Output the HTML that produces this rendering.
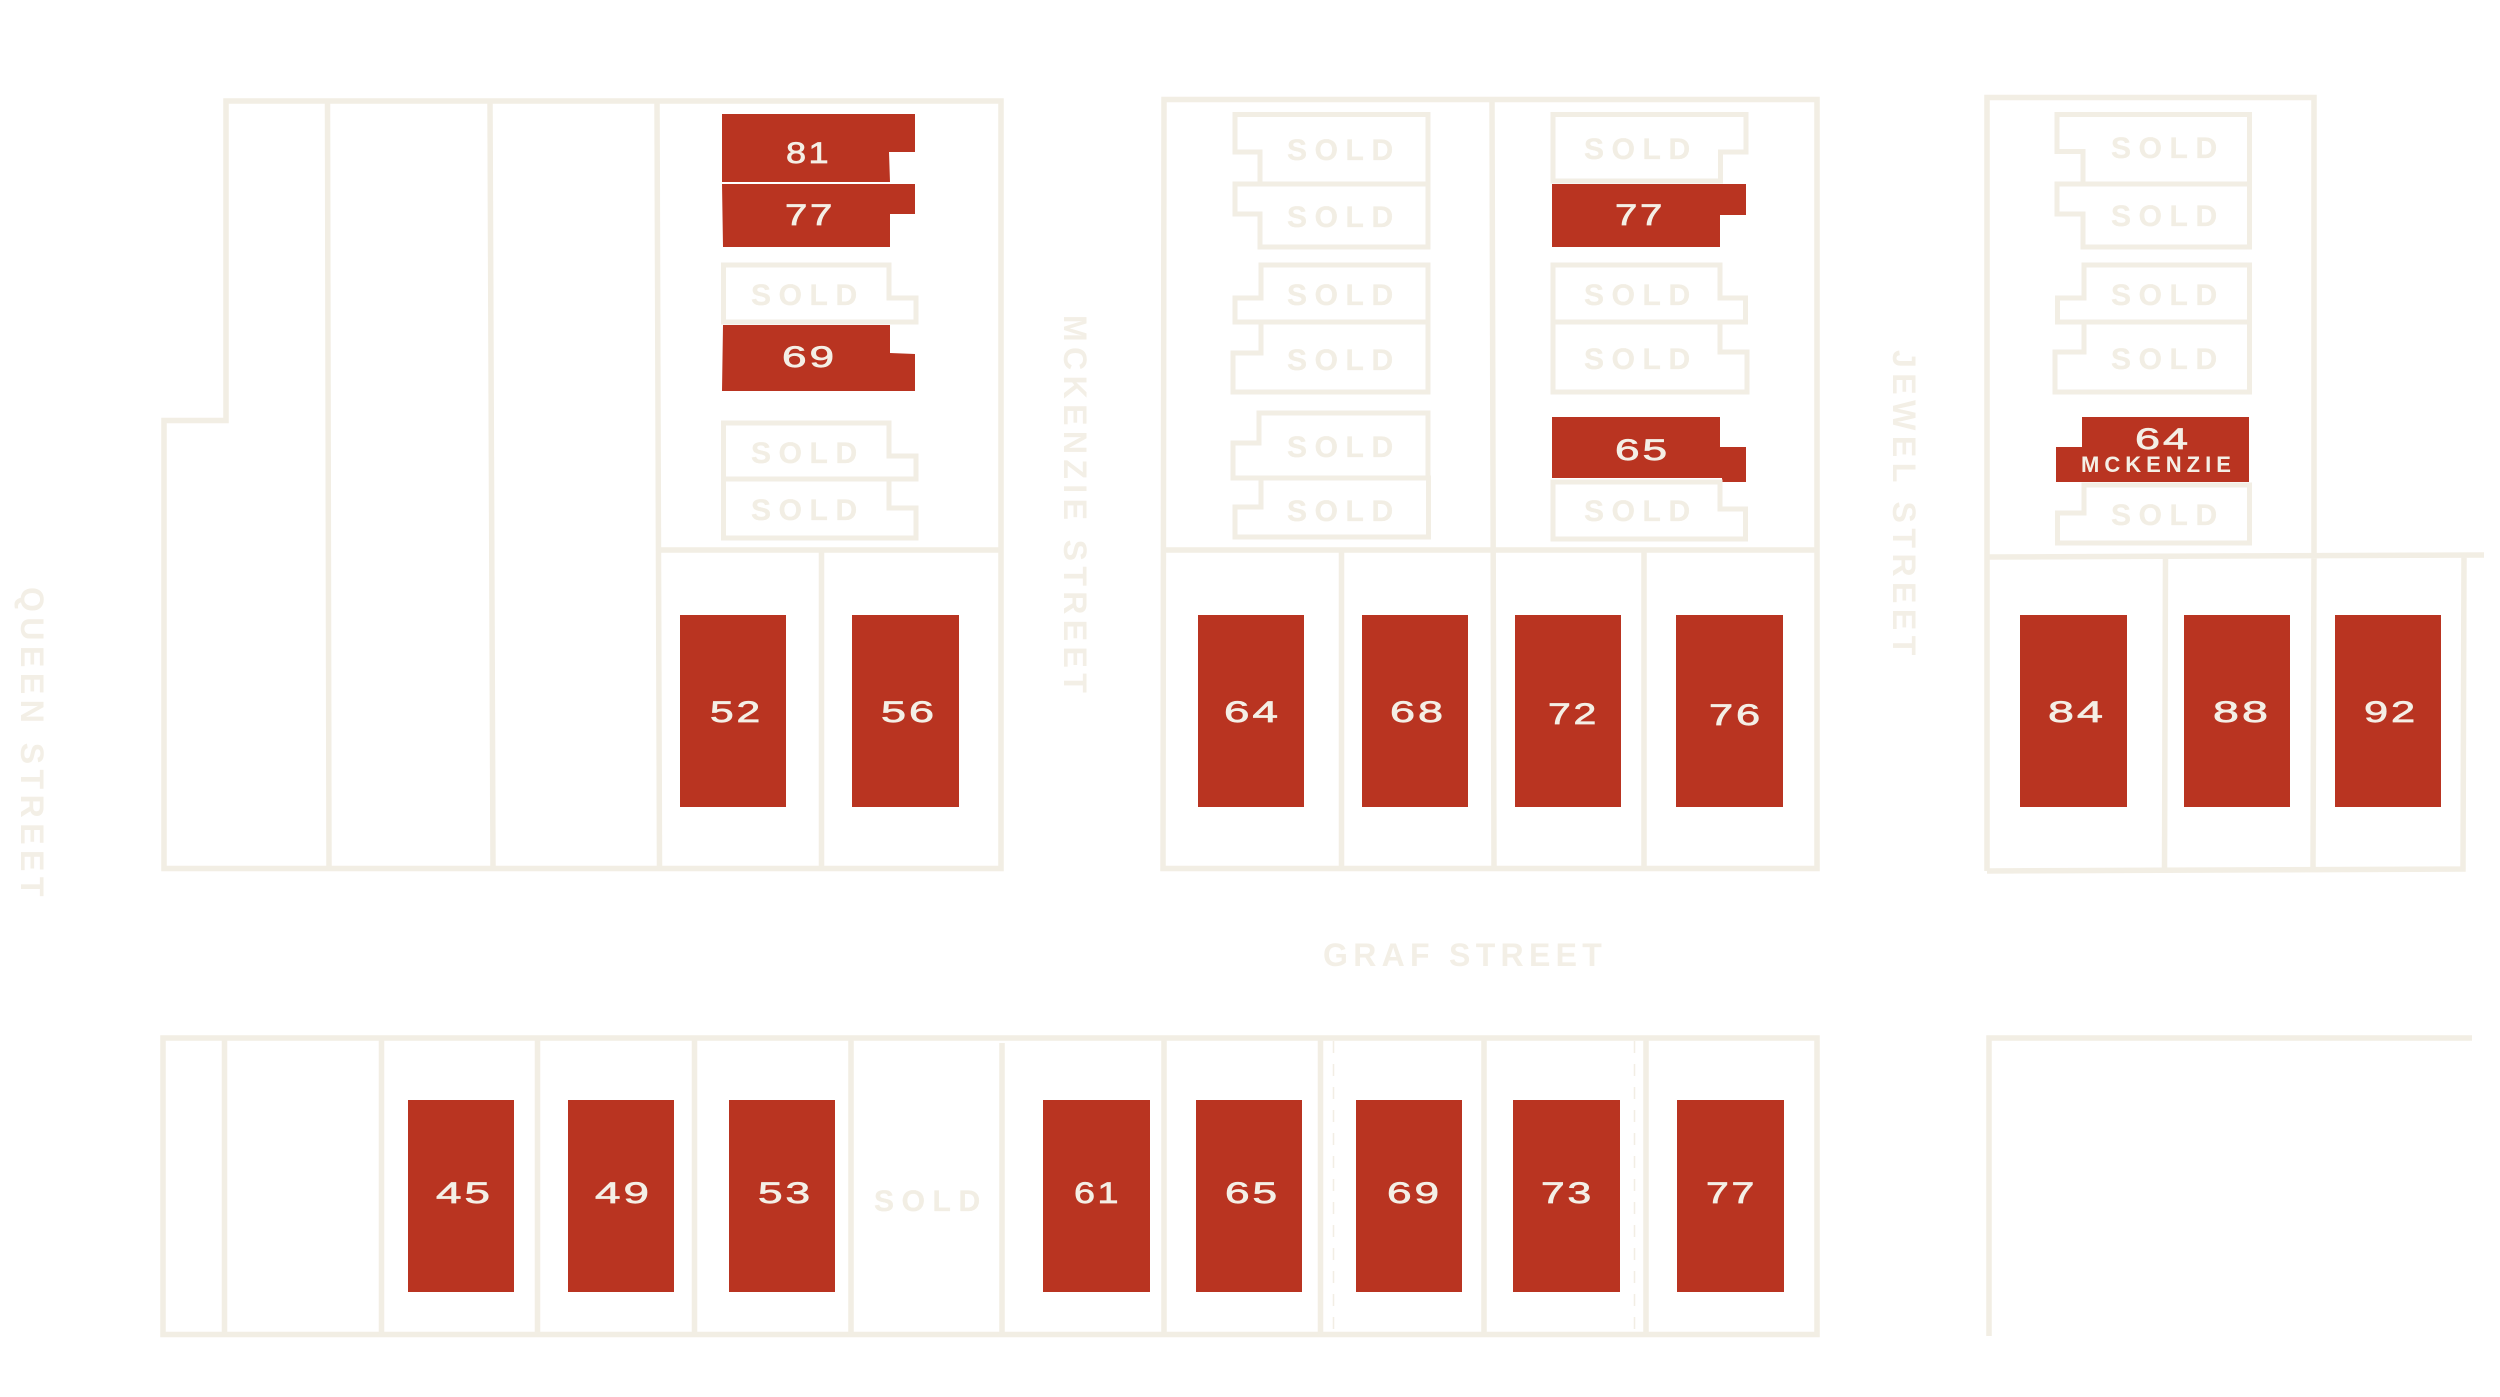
<!DOCTYPE html>
<html>
<head>
<meta charset="utf-8">
<style>
html,body{margin:0;padding:0;background:#fff;width:2500px;height:1397px;overflow:hidden}
svg{display:block}
.l{fill:none;stroke:#f2eee4;stroke-width:5.5;stroke-linejoin:miter;stroke-linecap:butt}
.o{fill:none;stroke:#f2eee4;stroke-width:5;stroke-linejoin:miter}
.r{fill:#b93421}
text{font-family:"Liberation Sans",sans-serif}
.s{font-size:30px;font-weight:bold;letter-spacing:7.6px;fill:#f2eee4;stroke:#f2eee4;stroke-width:.3}
.n{font-size:30px;letter-spacing:2px;fill:#f4efe6;stroke:#f4efe6;stroke-width:.7}
.t{font-size:32px;font-weight:bold;fill:#f3efe6}
</style>
</head>
<body>
<svg width="2500" height="1397" viewBox="0 0 2500 1397" xmlns="http://www.w3.org/2000/svg">
<rect width="2500" height="1397" fill="#fff"/>

<!-- Block 1 -->
<path class="l" d="M164 868.5V420.5H226V101H1001V868.5Z"/>
<path class="l" d="M327.5 101L329 868M490 101L493 868M657 101L659.5 868M821.5 550V868M657 550H1001"/>

<!-- Block 2 -->
<path class="l" d="M1164 99.5H1817V868.5H1163Z"/>
<path class="l" d="M1492 99.5L1494 868.5M1341.5 550V868M1644 550V868M1163 550H1817"/>

<!-- Block 3 -->
<path class="l" d="M1987 871V97.5H2314V556"/>
<path class="l" d="M1987 557L2484 555M1987 871L2463 869L2464 556M2165.5 556L2164.5 872M2314 556L2313 870"/>

<!-- Bottom block -->
<path class="l" d="M163 1038H1817V1334.5H163Z"/>
<path class="l" d="M224.5 1038V1332M381.5 1038V1332M537.5 1038V1332M694.5 1038V1332M851 1038V1332M1002 1043V1332M1164 1038V1332M1320.5 1038V1332M1484 1038V1332M1646 1038V1332"/>
<path d="M1333.5 1041V1331M1634.5 1041V1331" fill="none" stroke="#f2eee4" stroke-width="1.5" stroke-dasharray="12 11"/>

<!-- Bottom right partial -->
<path class="l" d="M2472 1038H1989V1336"/>

<!-- Block 1 units -->
<polygon class="r" points="722,114 915,114 915,152 889,152 890,182 722,182"/>
<polygon class="r" points="722,184 915,184 915,214 890,214 890,247 723,247"/>
<polygon class="o" points="723.5,265 889,265 889,298 916,298 916,322 723.5,322"/>
<polygon class="r" points="723,325 890,325 890,353 915,354 915,391 722,391"/>
<polygon class="o" points="723.5,423 889,423 889,456 916,456 916,479 723.5,479"/>
<polygon class="o" points="723.5,479 889,479 889,508 916,508 916,538 723.5,538"/>
<text class="n" x="786" y="163" textLength="45" lengthAdjust="spacingAndGlyphs">81</text>
<text class="n" x="785" y="225" textLength="50" lengthAdjust="spacingAndGlyphs">77</text>
<text class="n" x="782" y="367" textLength="55" lengthAdjust="spacingAndGlyphs">69</text>
<text class="s" x="751" y="305">SOLD</text>
<text class="s" x="751" y="463">SOLD</text>
<text class="s" x="751" y="520">SOLD</text>

<!-- Block 2 left units -->
<polygon class="o" points="1235,114.5 1428,114.5 1428,184 1260,184 1260,152 1235,152"/>
<polygon class="o" points="1235,184 1428,184 1428,247 1260,247 1260,214 1235,214"/>
<polygon class="o" points="1261,265 1428,265 1428,322 1235,322 1235,298 1261,298"/>
<polygon class="o" points="1261,322 1428,322 1428,392 1233,392 1233,353 1261,353"/>
<polygon class="o" points="1259,413 1428,413 1428,478 1233,478 1233,443 1259,443"/>
<polygon class="o" points="1261,478 1428.5,478 1428.5,537 1235,537 1235,507 1261,507"/>
<text class="s" x="1287" y="160">SOLD</text>
<text class="s" x="1287" y="227">SOLD</text>
<text class="s" x="1287" y="305">SOLD</text>
<text class="s" x="1287" y="370">SOLD</text>
<text class="s" x="1287" y="457">SOLD</text>
<text class="s" x="1287" y="521">SOLD</text>

<!-- Block 2 right units -->
<polygon class="o" points="1553,114.5 1746,114.5 1746,152 1720.5,152 1720.5,181 1553,181"/>
<polygon class="r" points="1552,184 1746,184 1746,215 1720,215 1720,247 1552,247"/>
<polygon class="o" points="1553,265 1720,265 1720,298 1745.5,298 1745.5,322 1553,322"/>
<polygon class="o" points="1553,322 1720,322 1720,352 1747,352 1747,392 1553,392"/>
<polygon class="r" points="1552,417 1720,417 1720,447 1746,447 1746,482 1722,482 1722,478 1552,478"/>
<polygon class="o" points="1553,482 1720,482 1720,509 1745.5,509 1745.5,539 1553,539"/>
<text class="s" x="1584" y="159">SOLD</text>
<text class="s" x="1584" y="305">SOLD</text>
<text class="s" x="1584" y="369">SOLD</text>
<text class="s" x="1584" y="521">SOLD</text>
<text class="n" x="1615" y="225" textLength="50" lengthAdjust="spacingAndGlyphs">77</text>
<text class="n" x="1615" y="460" textLength="55" lengthAdjust="spacingAndGlyphs">65</text>

<!-- Block 3 units -->
<polygon class="o" points="2057,114.5 2249.5,114.5 2249.5,184 2083,184 2083,151.5 2057,151.5"/>
<polygon class="o" points="2057,184 2249.5,184 2249.5,247 2083,247 2083,214 2057,214"/>
<polygon class="o" points="2084,265 2249.5,265 2249.5,322 2057.5,322 2057.5,298 2084,298"/>
<polygon class="o" points="2084,322 2249.5,322 2249.5,392 2055,392 2055,352 2084,352"/>
<polygon class="r" points="2082,417 2249,417 2249,482 2056,482 2056,447 2082,447"/>
<polygon class="o" points="2084,485 2249.5,485 2249.5,543 2057.5,543 2057.5,513 2084,513"/>
<text class="s" x="2111" y="158">SOLD</text>
<text class="s" x="2111" y="226">SOLD</text>
<text class="s" x="2111" y="305">SOLD</text>
<text class="s" x="2111" y="369">SOLD</text>
<text class="s" x="2111" y="525">SOLD</text>
<text class="n" x="2135" y="449" textLength="56" lengthAdjust="spacingAndGlyphs">64</text>
<text x="2081" y="472" style="font-size:22px;font-weight:bold;letter-spacing:5px;fill:#f4efe6">MCKENZIE</text>

<!-- Middle row red blocks -->
<rect class="r" x="680" y="615" width="106" height="192"/>
<rect class="r" x="852" y="615" width="107" height="192"/>
<rect class="r" x="1198" y="615" width="106" height="192"/>
<rect class="r" x="1362" y="615" width="106" height="192"/>
<rect class="r" x="1515" y="615" width="106" height="192"/>
<rect class="r" x="1676" y="615" width="107" height="192"/>
<rect class="r" x="2020" y="615" width="107" height="192"/>
<rect class="r" x="2184" y="615" width="106" height="192"/>
<rect class="r" x="2335" y="615" width="106" height="192"/>
<text class="n" x="710" y="722" textLength="53" lengthAdjust="spacingAndGlyphs">52</text>
<text class="n" x="881" y="722" textLength="56" lengthAdjust="spacingAndGlyphs">56</text>
<text class="n" x="1224" y="722" textLength="57" lengthAdjust="spacingAndGlyphs">64</text>
<text class="n" x="1390" y="722" textLength="56" lengthAdjust="spacingAndGlyphs">68</text>
<text class="n" x="1548" y="724" textLength="51" lengthAdjust="spacingAndGlyphs">72</text>
<text class="n" x="1709" y="725" textLength="54" lengthAdjust="spacingAndGlyphs">76</text>
<text class="n" x="2048" y="722" textLength="58" lengthAdjust="spacingAndGlyphs">84</text>
<text class="n" x="2213" y="722" textLength="58" lengthAdjust="spacingAndGlyphs">88</text>
<text class="n" x="2364" y="722" textLength="54" lengthAdjust="spacingAndGlyphs">92</text>

<!-- Bottom row red blocks -->
<rect class="r" x="408" y="1100" width="106" height="192"/>
<rect class="r" x="568" y="1100" width="106" height="192"/>
<rect class="r" x="729" y="1100" width="106" height="192"/>
<rect class="r" x="1043" y="1100" width="107" height="192"/>
<rect class="r" x="1196" y="1100" width="106" height="192"/>
<rect class="r" x="1356" y="1100" width="106" height="192"/>
<rect class="r" x="1513" y="1100" width="107" height="192"/>
<rect class="r" x="1677" y="1100" width="107" height="192"/>
<text class="n" x="436" y="1203" textLength="57" lengthAdjust="spacingAndGlyphs">45</text>
<text class="n" x="595" y="1203" textLength="57" lengthAdjust="spacingAndGlyphs">49</text>
<text class="n" x="758" y="1203" textLength="55" lengthAdjust="spacingAndGlyphs">53</text>
<text class="n" x="1074" y="1203" textLength="47" lengthAdjust="spacingAndGlyphs">61</text>
<text class="n" x="1225" y="1203" textLength="55" lengthAdjust="spacingAndGlyphs">65</text>
<text class="n" x="1387" y="1203" textLength="55" lengthAdjust="spacingAndGlyphs">69</text>
<text class="n" x="1541" y="1203" textLength="53" lengthAdjust="spacingAndGlyphs">73</text>
<text class="n" x="1706" y="1203" textLength="51" lengthAdjust="spacingAndGlyphs">77</text>
<text class="s" x="874" y="1211">SOLD</text>

<!-- Street labels -->
<text class="t" x="1323" y="966" style="letter-spacing:5.3px">GRAF STREET</text>
<text class="t" transform="translate(21,587) rotate(90)" x="0" y="0" style="letter-spacing:5.5px">QUEEN STREET</text>
<text class="t" transform="translate(1064,315) rotate(90)" x="0" y="0" style="letter-spacing:5.4px">MCKENZIE STREET</text>
<text class="t" transform="translate(1893,350) rotate(90)" x="0" y="0" style="letter-spacing:5.5px">JEWEL STREET</text>
</svg>
</body>
</html>
